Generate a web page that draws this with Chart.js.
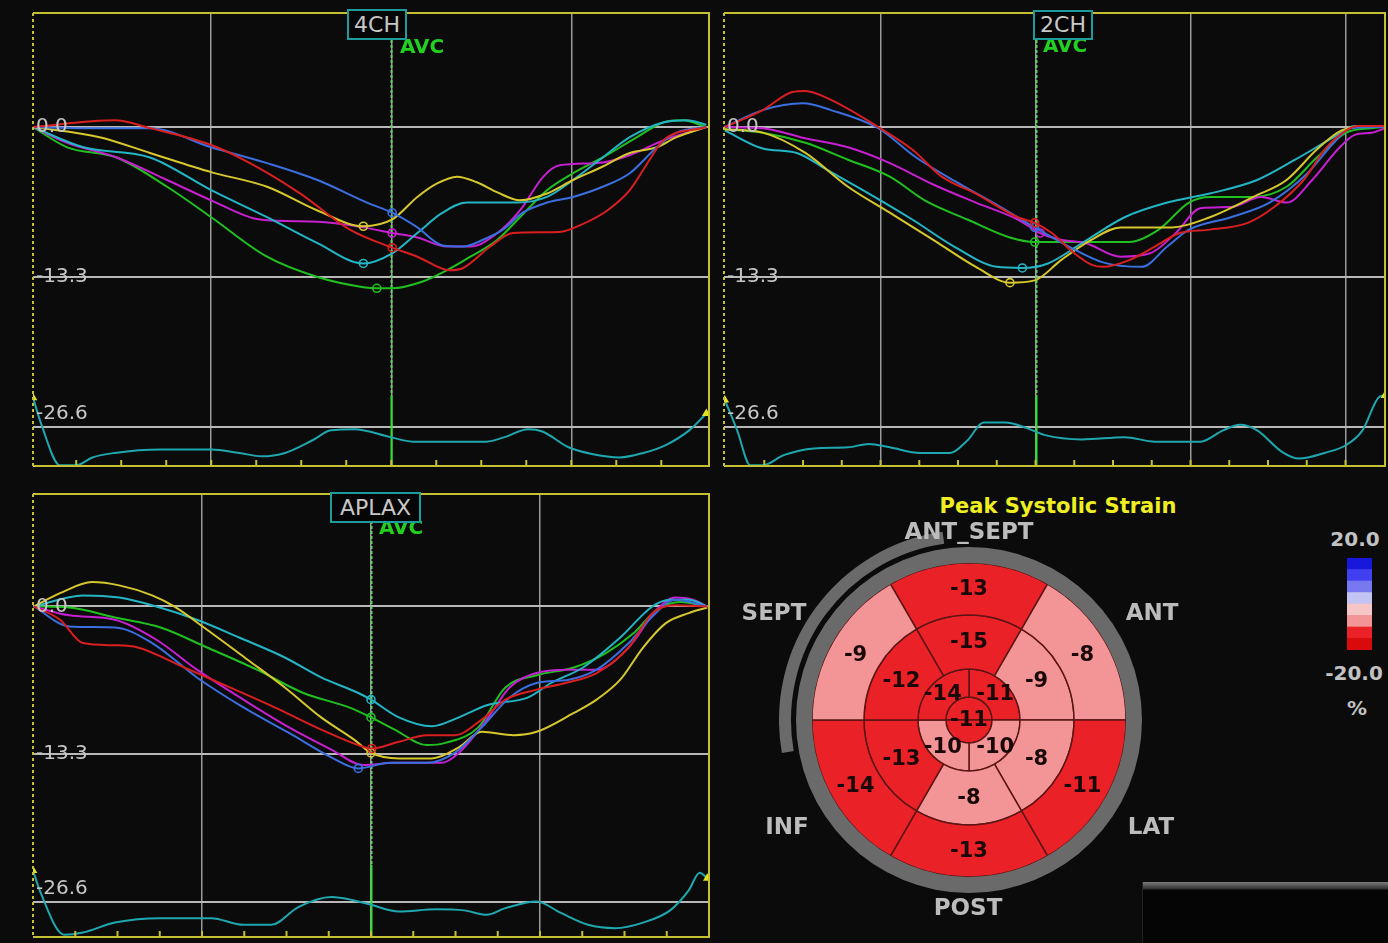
<!DOCTYPE html>
<html><head><meta charset="utf-8">
<script src="https://cdn.jsdelivr.net/npm/chart.js@4.4.1/dist/chart.umd.min.js"></script>
<style>
html,body{margin:0;padding:0;background:#0b0b0b;width:1388px;height:943px;overflow:hidden;}
#stage{position:relative;width:1388px;height:943px;overflow:hidden;}
canvas{position:absolute;}
.t{position:absolute;white-space:nowrap;font-family:"DejaVu Sans",sans-serif;transform:translate(-50%,-50%);line-height:1;}
.box{position:absolute;box-sizing:border-box;border:2px solid #1e9c9c;background:#060606;color:#c8c8c8;font:22px "DejaVu Sans",sans-serif;text-align:center;}
.avc{position:absolute;color:#22d022;font:bold 20px "DejaVu Sans",sans-serif;line-height:20px;}
</style></head><body><div id="stage"></div>
<script>
// ---------- data ----------
const gridTimes = [200, 400, 600, 800];
const strainTicks = [0, -13.3, -26.6];
const strainTickLabels = ['0.0', '-13.3', '-26.6'];
const avcTime = 400;
const tickStep = 50;

// series order: red, blue, yellow, cyan, magenta, green  ([time ms, strain %])
const ch4Red = [[2,0],[93,0.6],[132,-0.1],[200,-1.6],[243,-3.2],[299,-5.9],[354,-9.1],[401,-10.7],[429,-11.5],[465,-12.7],[480,-12.5],[510,-10.6],[535,-9.4],[587,-9.3],[610,-8.7],[640,-7.4],[665,-5.6],[687,-2.9],[702,-1.2],[750,0]];
const ch4Blue = [[2,0],[58,-0.1],[132,-0.1],[200,-1.8],[262,-3.2],[318,-4.7],[373,-6.7],[401,-7.6],[429,-8.9],[457,-10.5],[480,-10.6],[502,-10.0],[524,-9.1],[546,-7.6],[573,-6.7],[602,-6.2],[635,-5.3],[665,-4.1],[695,-1.8],[717,-0.5],[750,0]];
const ch4Yellow = [[2,0],[76,-0.9],[132,-2.3],[200,-4.0],[262,-5.3],[318,-7.4],[369,-8.8],[401,-8.2],[429,-6.2],[451,-5.0],[473,-4.4],[495,-4.9],[518,-5.8],[543,-6.5],[573,-5.9],[602,-4.7],[635,-3.5],[665,-2.3],[695,-1.8],[717,-0.9],[750,0]];
const ch4Cyan = [[2,0],[58,-1.8],[132,-2.7],[200,-5.6],[262,-8.0],[318,-10.3],[369,-12.1],[401,-11.2],[429,-9.4],[457,-7.6],[484,-6.7],[540,-6.7],[573,-6.2],[602,-4.7],[635,-2.7],[665,-0.9],[702,0.4],[729,0.6],[750,0.2]];
const ch4Magenta = [[2,0],[40,-1.4],[95,-2.7],[151,-4.7],[200,-6.5],[254,-8.2],[318,-8.4],[369,-8.9],[401,-9.4],[429,-9.8],[462,-10.6],[488,-10.6],[518,-9.4],[543,-7.4],[569,-4.4],[587,-3.4],[629,-3.2],[665,-2.5],[702,-1.2],[750,0]];
const ch4Green = [[2,0],[40,-1.8],[95,-2.7],[151,-5.3],[200,-8.0],[262,-11.5],[318,-13.3],[369,-14.2],[384,-14.3],[401,-14.3],[435,-13.7],[462,-12.7],[488,-11.5],[518,-10.0],[543,-8.0],[573,-5.6],[602,-4.1],[635,-2.7],[673,-0.9],[702,0.4],[724,0.6],[750,0]];
const ch4Marks = [401, 401, 369, 369, 401, 384];
const ch4Lower = [[2,-24.0],[11,-26.3],[32,-30.0],[50,-30.0],[68,-29.3],[93,-28.9],[144,-28.6],[200,-28.6],[231,-28.9],[256,-29.2],[282,-28.9],[312,-27.8],[333,-26.9],[359,-26.8],[399,-27.5],[424,-27.9],[506,-27.9],[526,-27.5],[552,-26.8],[568,-27.0],[597,-28.4],[623,-29.0],[654,-29.3],[680,-28.9],[705,-28.2],[731,-26.9],[750,-25.4]];

const ch2Red = [[-1,0],[48,1.5],[86,3.1],[103,3.2],[136,2.4],[197,0],[241,-2.0],[279,-4.4],[323,-5.9],[377,-8.0],[399,-8.5],[421,-9.4],[450,-11.2],[472,-12.2],[487,-12.4],[521,-11.8],[554,-10.6],[586,-9.4],[625,-9.1],[674,-8.5],[708,-7.1],[746,-4.7],[773,-2.0],[801,-0.3],[817,0.1],[851,0.1]];
const ch2Blue = [[-1,0],[48,1.5],[100,2.1],[136,1.5],[197,-0.1],[246,-2.7],[301,-5.0],[355,-7.1],[399,-8.9],[443,-10.6],[487,-12.0],[537,-12.4],[570,-10.6],[598,-9.1],[652,-8.0],[702,-6.7],[751,-4.1],[785,-1.4],[807,-0.1],[851,0]];
const ch2Yellow = [[-1,-0.2],[48,-0.5],[103,-2.3],[158,-5.3],[212,-7.6],[268,-10.0],[323,-12.4],[367,-13.8],[399,-13.6],[433,-11.8],[472,-10.0],[510,-8.9],[576,-8.9],[625,-8.0],[681,-6.2],[724,-4.7],[763,-2.0],[795,-0.3],[834,0.1],[851,0]];
const ch2Cyan = [[-1,-0.3],[48,-1.9],[92,-2.3],[131,-3.8],[185,-5.9],[241,-8.2],[295,-10.6],[350,-12.4],[383,-12.5],[416,-12.1],[460,-10.3],[515,-8.0],[570,-6.7],[625,-5.9],[686,-4.7],[735,-2.9],[785,-0.9],[812,0.1],[851,0]];
const ch2Magenta = [[-1,0],[48,-0.1],[103,-1.0],[158,-1.8],[212,-3.2],[268,-5.1],[323,-6.7],[377,-8.2],[406,-9.4],[433,-10.0],[465,-10.3],[510,-11.5],[548,-11.2],[581,-9.4],[613,-7.2],[652,-7.1],[691,-6.2],[724,-6.7],[757,-4.7],[790,-2.0],[812,-0.7],[834,-0.5],[851,-0.1]];
const ch2Green = [[-1,-0.2],[48,-0.5],[103,-1.4],[158,-2.9],[212,-4.4],[257,-6.5],[312,-8.2],[367,-9.8],[399,-10.2],[443,-10.2],[521,-10.2],[559,-9.1],[598,-6.7],[625,-6.2],[681,-6.2],[724,-5.3],[763,-2.7],[801,-0.5],[834,-0.1],[851,0]];
const ch2Marks = [399, 399, 367, 383, 406, 399];
const ch2Lower = [[-1,-24.2],[15,-26.9],[32,-30.0],[48,-30.0],[75,-29.1],[114,-28.5],[158,-28.4],[185,-28.1],[212,-28.4],[251,-28.9],[290,-28.9],[312,-27.8],[333,-26.2],[361,-26.2],[389,-26.7],[411,-27.3],[460,-27.7],[515,-27.5],[554,-27.9],[613,-27.9],[642,-26.9],[664,-26.4],[686,-26.9],[718,-28.8],[740,-29.4],[773,-28.9],[801,-28.2],[822,-26.9],[844,-23.9],[851,-23.8]];

const apRed = [[1,0],[32,-1.2],[59,-3.3],[97,-3.5],[124,-3.7],[179,-5.5],[233,-7.3],[286,-9.1],[341,-11.1],[385,-12.5],[401,-12.8],[433,-12.2],[466,-11.6],[499,-11.6],[531,-10.2],[559,-8.4],[596,-7.5],[630,-6.9],[667,-6.0],[705,-3.7],[733,-0.6],[760,0.1],[798,0]];
const apBlue = [[1,0],[43,-1.8],[97,-1.9],[141,-3.3],[194,-6.4],[249,-9.1],[303,-11.4],[353,-13.6],[385,-14.6],[422,-14.1],[466,-14.1],[499,-13.2],[531,-10.9],[564,-8.2],[596,-6.9],[634,-6.6],[667,-5.7],[705,-3.3],[733,-0.9],[760,0.6],[798,0]];
const apYellow = [[1,0],[32,1.2],[70,2.2],[102,1.9],[141,1.0],[167,0],[206,-2.1],[254,-4.8],[298,-7.3],[341,-10.0],[380,-12.0],[400,-13.2],[433,-13.7],[472,-13.7],[504,-12.7],[531,-11.3],[569,-11.6],[596,-11.3],[640,-9.6],[667,-8.4],[695,-6.6],[722,-3.7],[749,-1.5],[776,-0.6],[798,-0.1]];
const apCyan = [[1,0],[59,1.0],[102,0.8],[146,0],[194,-1.2],[244,-2.8],[298,-4.6],[341,-6.4],[385,-7.8],[400,-8.4],[433,-10.0],[472,-10.8],[504,-10.0],[537,-8.9],[586,-8.2],[613,-6.9],[651,-5.5],[695,-2.8],[733,0],[754,0.6],[776,0.6],[798,0]];
const apMagenta = [[1,0],[43,-0.8],[97,-1.2],[146,-3.0],[194,-5.7],[249,-8.4],[303,-10.9],[353,-12.9],[391,-14.3],[428,-14.1],[483,-14.1],[504,-13.2],[537,-10.2],[564,-7.3],[596,-6.0],[634,-5.7],[667,-5.7],[705,-3.7],[738,-0.3],[760,0.8],[781,0.6],[798,0]];
const apGreen = [[1,0],[43,-0.1],[97,-1.0],[151,-1.9],[206,-3.7],[265,-5.7],[320,-7.8],[374,-9.1],[400,-10.0],[428,-11.1],[466,-12.5],[488,-12.3],[527,-10.9],[559,-7.3],[596,-6.2],[640,-5.5],[678,-4.2],[711,-2.4],[738,-0.3],[766,0.4],[798,0]];
const apMarks = [401, 385, 400, 400, null, 400];
const apLower = [[0,-23.8],[9,-25.8],[37,-29.6],[59,-29.4],[97,-28.5],[151,-28.1],[211,-28.1],[249,-28.7],[282,-28.7],[314,-27.1],[353,-26.2],[380,-26.5],[400,-26.9],[433,-27.5],[477,-27.3],[510,-27.4],[537,-27.8],[559,-27.2],[596,-26.6],[624,-27.6],[657,-28.7],[689,-29.0],[722,-28.5],[754,-27.4],[776,-25.6],[789,-24.0],[798,-24.5]];

// bull's eye (clockwise from top)
const basalNames = ['ANT_SEPT','ANT','LAT','POST','INF','SEPT'];
const basalStrain = [-13, -8, -11, -13, -14, -9];
const midStrain = [-15, -9, -8, -8, -13, -12];
const apicalStrain = [-11, -10, -10, -14];
const apexStrain = [-11];
const colorbarBounds = [-20, -15, -10, -5, 0, 5, 10, 15, 20];
const colorbarLabels = ['20.0', '-20.0', '%'];

// ---------- styles ----------
const seriesColors = ['#d91f1f', '#3b6fe0', '#d6c82c', '#23b5c5', '#c620d0', '#20c020'];
const lowerColor = '#1fa7b0';
const frameYellow = '#c4c032';
const colorbarColors = ['#d90a0a', '#ea2227', '#f39597', '#f6c6c6', '#c4c4f4', '#7878f0', '#4040f0', '#1818dc'];
const labelShift = [0, 0, -13];
const ringGray = '#6a6a6a';
const crescentArc = [260, 92, 8];

const stage = document.getElementById('stage');
function addCanvas(l, t, w, h) {
  const c = document.createElement('canvas');
  c.width = w; c.height = h;
  c.style.left = l + 'px'; c.style.top = t + 'px';
  c.style.width = w + 'px'; c.style.height = h + 'px';
  stage.appendChild(c);
  return c;
}
function addText(txt, x, y, css) {
  const d = document.createElement('div');
  d.className = 't'; d.textContent = txt;
  d.style.left = x + 'px'; d.style.top = y + 'px';
  Object.assign(d.style, css || {});
  stage.appendChild(d);
  return d;
}

function framePlugin(p) {
  return {
    id: 'frame_' + p.name,
    beforeDatasetsDraw(chart) {
      const {ctx, chartArea: a, scales: {x, y}} = chart;
      const ax = Math.round(x.getPixelForValue(avcTime)) + 0.5;
      const ys = y.getPixelForValue(p.avcSolidFrom);
      ctx.save();
      ctx.lineWidth = 2;
      ctx.strokeStyle = '#62d062';
      ctx.setLineDash([3, 2]);
      ctx.beginPath(); ctx.moveTo(ax, a.top + 22); ctx.lineTo(ax, ys); ctx.stroke();
      ctx.setLineDash([]);
      ctx.strokeStyle = '#2ee02e';
      ctx.beginPath(); ctx.moveTo(ax, ys); ctx.lineTo(ax, a.bottom); ctx.stroke();
      ctx.restore();
    },
    afterDatasetsDraw(chart) {
      const {ctx, chartArea: a, scales: {x, y}} = chart;
      ctx.save();
      ctx.font = '20px "DejaVu Sans"';
      ctx.fillStyle = '#c6c6c6';
      ctx.textBaseline = 'middle';
      ctx.textAlign = 'left';
      strainTicks.forEach((v, i) => ctx.fillText(strainTickLabels[i], a.left + 3, y.getPixelForValue(v) + labelShift[i]));
      ctx.strokeStyle = frameYellow;
      ctx.lineWidth = 2;
      ctx.beginPath();
      ctx.moveTo(a.left, a.top); ctx.lineTo(a.right, a.top); ctx.lineTo(a.right, a.bottom); ctx.lineTo(a.left, a.bottom);
      ctx.stroke();
      ctx.setLineDash([3, 3]);
      ctx.beginPath(); ctx.moveTo(a.left, a.top); ctx.lineTo(a.left, a.bottom); ctx.stroke();
      ctx.setLineDash([]);
      for (let t = Math.ceil(p.xMin / tickStep) * tickStep; t < p.xMax - 5; t += tickStep) {
        if (t < p.xMin + 10) continue;
        const px = x.getPixelForValue(t);
        ctx.beginPath(); ctx.moveTo(px, a.bottom); ctx.lineTo(px, a.bottom - 6); ctx.stroke();
      }
      ctx.restore();
    }
  };
}

function makePanel(p) {
  const pad = 14;
  const w = p.right - p.left + 2 * pad, h = p.bottom - p.top + 2 * pad;
  const cv = addCanvas(p.left - pad, p.top - pad, w, h);
  const datasets = p.series.map((s, i) => ({
    data: s.map(([t, v]) => ({x: t, y: v})),
    borderColor: seriesColors[i],
    borderWidth: 2,
    pointRadius: s.map(([t]) => (t === p.marks[i] ? 4 : 0)),
    pointBorderColor: seriesColors[i],
    pointBackgroundColor: 'rgba(0,0,0,0)',
    pointBorderWidth: 1.6,
    cubicInterpolationMode: 'monotone',
    fill: false
  }));
  datasets.push({
    data: p.lower.map(([t, v]) => ({x: t, y: v})),
    borderColor: lowerColor,
    borderWidth: 2,
    pointRadius: p.lower.map((_, j) => (j === 0 || j === p.lower.length - 1 ? 3 : 0)),
    pointStyle: 'triangle',
    pointBackgroundColor: '#e2e226',
    pointBorderColor: '#e2e226',
    cubicInterpolationMode: 'monotone',
    fill: false
  });
  new Chart(cv, {
    type: 'line',
    data: {datasets},
    options: {
      responsive: false, animation: false, events: [],
      layout: {padding: pad},
      plugins: {legend: {display: false}, tooltip: {enabled: false}},
      scales: {
        x: {
          type: 'linear', min: p.xMin, max: p.xMax,
          ticks: {display: false}, border: {display: false},
          grid: {color: '#9a9a9a', lineWidth: 1.5, drawTicks: false},
          afterBuildTicks: s => { s.ticks = gridTimes.filter(t => t > p.xMin && t < p.xMax).map(v => ({value: v})); }
        },
        y: {
          type: 'linear', min: p.yMin, max: p.yMax,
          ticks: {display: false}, border: {display: false},
          grid: {color: '#b8b8b8', lineWidth: 2, drawTicks: false},
          afterBuildTicks: s => { s.ticks = strainTicks.map(v => ({value: v})); }
        }
      }
    },
    plugins: [framePlugin(p)]
  });
}

makePanel({name: '4CH', left: 33, top: 13, right: 709, bottom: 466, xMin: 2, xMax: 753, yMin: -30.06, yMax: 10.11, avcSolidFrom: -23.8,
  series: [ch4Red, ch4Blue, ch4Yellow, ch4Cyan, ch4Magenta, ch4Green], marks: ch4Marks, lower: ch4Lower});
makePanel({name: '2CH', left: 724, top: 13, right: 1385, bottom: 466, xMin: -2, xMax: 851, yMin: -30.06, yMax: 10.11, avcSolidFrom: -23.8,
  series: [ch2Red, ch2Blue, ch2Yellow, ch2Cyan, ch2Magenta, ch2Green], marks: ch2Marks, lower: ch2Lower});
makePanel({name: 'APLAX', left: 33, top: 494, right: 709, bottom: 937, xMin: 0, xMax: 800, yMin: -29.8, yMax: 10.14, avcSolidFrom: -23.3,
  series: [apRed, apBlue, apYellow, apCyan, apMagenta, apGreen], marks: apMarks, lower: apLower});

// AVC labels and view boxes
function addAvc(l, t) { const d = document.createElement('div'); d.className = 'avc'; d.textContent = 'AVC'; d.style.left = l + 'px'; d.style.top = t + 'px'; stage.appendChild(d); }
function addBox(txt, l, t, w, h) { const d = document.createElement('div'); d.className = 'box'; d.textContent = txt; Object.assign(d.style, {left: l + 'px', top: t + 'px', width: w + 'px', height: h + 'px', lineHeight: (h - 4) + 'px'}); stage.appendChild(d); }
addAvc(400, 36); addBox('4CH', 347, 9, 60, 31);
addAvc(1043, 35); addBox('2CH', 1033, 10, 60, 30);
addAvc(379, 517); addBox('APLAX', 330, 492, 91, 31);

// ---------- bull's eye ----------
const segColor = v => {
  for (let i = 0; i < colorbarColors.length; i++) if (v < colorbarBounds[i + 1]) return colorbarColors[i];
  return colorbarColors[colorbarColors.length - 1];
};
const segBorder = '#5c1414';
const bullLabels = {
  id: 'bullLabels',
  afterDatasetsDraw(chart) {
    const ctx = chart.ctx;
    ctx.save();
    ctx.font = 'bold 21px "DejaVu Sans"';
    ctx.fillStyle = '#1a0808';
    ctx.textAlign = 'center';
    ctx.textBaseline = 'middle';
    chart.data.datasets.forEach((ds, i) => {
      if (!ds.strain) return;
      const meta = chart.getDatasetMeta(i);
      if (ds.centerLabel) { const a = meta.data[0]; ctx.fillText(String(ds.strain[0]), a.x, a.y + 1); return; }
      meta.data.forEach((arc, j) => { const pt = arc.tooltipPosition(); ctx.fillText(String(ds.strain[j]), pt.x, pt.y + 1); });
    });
    ctx.restore();
  }
};
const bullCanvas = addCanvas(779, 530, 380, 380);
new Chart(bullCanvas, {
  type: 'doughnut',
  data: {
    datasets: [
      {data: crescentArc, backgroundColor: ['rgba(0,0,0,0)', ringGray, 'rgba(0,0,0,0)'], borderWidth: 0, weight: 12},
      {data: [1], backgroundColor: ['rgba(0,0,0,0)'], borderWidth: 0, weight: 5},
      {data: [1], backgroundColor: [ringGray], borderWidth: 0, weight: 16},
      {data: basalStrain.map(() => 1), backgroundColor: basalStrain.map(segColor), borderColor: segBorder, borderWidth: 1.5, rotation: -30, weight: 52, strain: basalStrain},
      {data: midStrain.map(() => 1), backgroundColor: midStrain.map(segColor), borderColor: segBorder, borderWidth: 1.5, rotation: -30, weight: 54, strain: midStrain},
      {data: apicalStrain.map(() => 1), backgroundColor: apicalStrain.map(segColor), borderColor: segBorder, borderWidth: 1.5, rotation: 0, weight: 28, strain: apicalStrain},
      {data: [1, 1], backgroundColor: [segColor(apexStrain[0]), segColor(apexStrain[0])], borderColor: segBorder, borderWidth: 1.5, rotation: -90, weight: 23, strain: apexStrain, centerLabel: true}
    ]
  },
  options: {
    responsive: false, animation: false, events: [], cutout: 0,
    layout: {padding: 0},
    plugins: {legend: {display: false}, tooltip: {enabled: false}}
  },
  plugins: [bullLabels]
});

// colour bar
const barCanvas = addCanvas(1347, 558, 25, 92);
new Chart(barCanvas, {
  type: 'bar',
  data: {
    labels: ['strain'],
    datasets: colorbarColors.map((c, i) => ({
      data: [[colorbarBounds[i], colorbarBounds[i + 1]]],
      backgroundColor: c, borderWidth: 0, grouped: false,
      barPercentage: 1, categoryPercentage: 1
    }))
  },
  options: {
    responsive: false, animation: false, events: [],
    layout: {padding: 0},
    plugins: {legend: {display: false}, tooltip: {enabled: false}},
    scales: {x: {display: false}, y: {display: false, min: -20, max: 20}}
  }
});

// texts
const regionCss = {font: 'bold 23px "DejaVu Sans", sans-serif', color: '#bcbcbc'};
addText('Peak Systolic Strain', 1058, 506, {font: 'bold 21px "DejaVu Sans", sans-serif', color: '#eeee22'});
addText(basalNames[0], 969, 531, regionCss);
addText(basalNames[1], 1152, 612, regionCss);
addText(basalNames[2], 1151, 826, regionCss);
addText(basalNames[3], 968, 907, regionCss);
addText(basalNames[4], 787, 826, regionCss);
addText(basalNames[5], 774, 612, regionCss);
const cbCss = {font: 'bold 20px "DejaVu Sans", sans-serif', color: '#c2c2c2'};
addText(colorbarLabels[0], 1355, 539, cbCss);
addText(colorbarLabels[1], 1354, 673, cbCss);
addText(colorbarLabels[2], 1357, 708, cbCss);

// bottom-right bevelled panel
const pnl = document.createElement('div');
Object.assign(pnl.style, {position: 'absolute', left: '1142px', top: '882px', width: '246px', height: '61px',
  background: 'linear-gradient(to bottom, #7a7a7a 0px, #5c5c5c 3px, #2e2e2e 7px, #050505 8px, #050505 100%)',
  borderLeft: '1px solid #222'});
stage.appendChild(pnl);
</script>
</body></html>
